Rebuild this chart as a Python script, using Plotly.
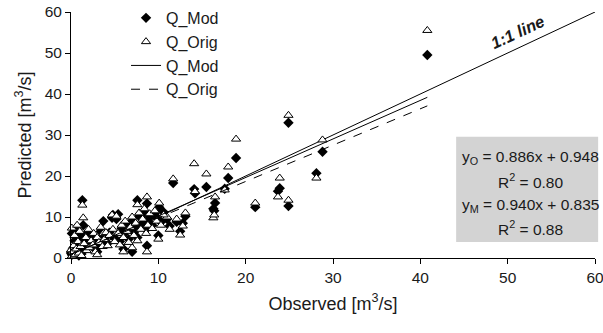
import plotly.graph_objects as go

# ---- data ----
observed = [40.8, 24.9, 28.8, 28.1, 18.9, 14.1, 15.5, 18.0, 17.6, 14.2, 23.9, 23.7, 24.9, 21.1,
            16.5, 16.3, 16.4, 13.1, 12.8, 12.5, 11.7, 8.7, 7.6, 10.1, 12.1, 11.0, 10.0, 8.7, 7.0,
            1.3, 1.4, 0.1,
            0.0, 0.1, 0.2, 0.3, 0.4, 0.5, 0.6, 0.7, 0.8, 0.9, 1.0, 1.1, 1.2, 1.5, 1.7, 1.8, 2.0,
            2.1, 2.3, 2.5, 2.6, 2.8, 3.0, 3.2, 3.4, 3.6, 3.7, 3.8, 4.0, 4.2, 4.4, 4.7, 4.8, 5.0,
            5.2, 5.4, 5.6, 5.8, 6.0, 6.2, 6.4, 6.6, 6.8, 7.0, 7.2, 7.4, 7.6, 7.8, 8.0, 8.2, 8.4,
            8.6, 8.8, 9.0, 9.3, 9.6, 9.8, 10.3, 10.6, 11.3, 6.0, 3.0]
q_orig = [55.5, 34.8, 28.8, 19.5, 29.0, 23.0, 20.5, 22.2, 16.6, 16.2, 19.5, 14.9, 14.1, 13.4,
          14.9, 9.8, 10.5, 11.0, 7.8, 5.6, 19.3, 14.9, 13.0, 13.4, 9.5, 10.0, 4.6, 1.5, 2.5,
          12.9, 9.8, 7.3,
          2.0, 0.5, 1.5, 3.0, 5.5, 0.8, 2.2, 8.0, 4.0, 1.2, 6.5, 2.8, 0.6, 3.5, 5.0, 1.8, 7.0,
          2.5, 4.2, 3.2, 6.0, 1.5, 5.0, 3.8, 7.5, 2.8, 6.0, 4.5, 6.2, 3.0, 5.5, 10.5, 7.0, 4.0,
          10.2, 6.0, 3.2, 8.0, 5.0, 9.0, 6.5, 3.8, 7.5, 10.0, 5.5, 8.5, 4.2, 11.0, 7.0, 9.5, 12.0,
          6.0, 8.0, 10.8, 7.2, 11.5, 9.0, 8.0, 10.5, 7.0, 1.5, 0.8]
q_mod = [49.5, 33.0, 25.9, 20.7, 24.4, 16.8, 17.3, 19.5, 16.9, 15.8, 17.0, 16.3, 12.7, 12.4,
         13.4, 12.0, 11.5, 10.2, 8.5, 6.5, 18.3, 13.3, 14.1, 12.4, 8.8, 9.5, 5.5, 3.0, 1.5,
         14.1, 8.0, 6.0,
         1.2, 0.8, 2.2, 2.5, 4.2, 1.5, 3.0, 6.8, 3.5, 0.6, 5.2, 2.0, 1.0, 4.0, 5.8, 2.5, 6.0,
         3.2, 3.8, 4.5, 5.5, 2.0, 4.2, 3.2, 6.5, 3.5, 9.0, 5.2, 5.5, 3.6, 6.2, 9.8, 10.5, 4.8,
         9.5, 10.7, 4.0, 7.2, 5.8, 8.2, 7.0, 4.6, 8.5, 9.0, 6.2, 7.8, 5.0, 10.2, 7.8, 8.5, 11.2,
         7.0, 9.0, 10.0, 8.0, 10.8, 9.8, 8.8, 11.2, 7.8, 2.2, 1.5]

fit_x = [0.0, 40.8]
fit_mod_y = [0.835, 39.19]    # y_M = 0.940x + 0.835
fit_orig_y = [0.948, 37.10]   # y_O = 0.886x + 0.948
one_to_one = [0, 60]

x_ticks = [0, 10, 20, 30, 40, 50, 60]
y_ticks = [0, 10, 20, 30, 40, 50, 60]

eq_lines = ["y<sub>O</sub> = 0.886x + 0.948", "R<sup>2</sup> = 0.80",
            "y<sub>M</sub> = 0.940x + 0.835", "R<sup>2</sup> = 0.88"]

FONT = "Liberation Sans, Arial, Helvetica, sans-serif"
INK = "#1a1a1a"

fig = go.Figure()

fig.add_trace(go.Scatter(x=one_to_one, y=one_to_one, mode="lines",
                         line=dict(color="black", width=1), showlegend=False,
                         hoverinfo="skip"))

fig.add_trace(go.Scatter(x=observed, y=q_mod, mode="markers", name="Q_Mod",
                         legendgroup="a", cliponaxis=False,
                         marker=dict(symbol="diamond", size=8, color="black",
                                     line=dict(width=0))))
fig.add_trace(go.Scatter(x=observed, y=q_orig, mode="markers", name="Q_Orig",
                         legendgroup="b", cliponaxis=False,
                         marker=dict(symbol="triangle-up", size=8, color="white",
                                     line=dict(color="black", width=1))))
fig.add_trace(go.Scatter(x=fit_x, y=fit_mod_y, mode="lines", name="Q_Mod",
                         legendgroup="c",
                         line=dict(color="black", width=1)))
fig.add_trace(go.Scatter(x=fit_x, y=fit_orig_y, mode="lines", name="Q_Orig",
                         legendgroup="d",
                         line=dict(color="black", width=1, dash="dash")))

# equation box
fig.add_shape(type="rect", xref="paper", yref="y", x0=0.735, x1=1.006, y0=3.9, y1=29.6,
              fillcolor="#d3d3d3", line=dict(width=0), layer="below")
eq_y = [24.6, 18.8, 12.9, 7.3]
for txt, yy in zip(eq_lines, eq_y):
    fig.add_annotation(x=52.6, y=yy, xref="x", yref="y", text=txt, showarrow=False,
                       font=dict(family=FONT, size=15.5, color=INK))

fig.add_annotation(x=51.1, y=55.2, xref="x", yref="y", text="<b><i>1:1 line</i></b>",
                   showarrow=False, textangle=-25,
                   font=dict(family=FONT, size=16.5, color=INK))

axis_common = dict(range=[0, 60], showgrid=False, zeroline=False, showline=True,
                   linecolor="black", linewidth=1, ticks="outside", ticklen=5,
                   tickcolor="black", automargin=False, ticklabeloverflow="allow",
                   tickfont=dict(family=FONT, size=15.5, color=INK))

fig.update_layout(
    width=603, height=333,
    margin=dict(l=71, r=8, t=12, b=75, autoexpand=False),
    paper_bgcolor="white", plot_bgcolor="white",
    font=dict(family=FONT, size=14, color=INK),
    xaxis=dict(**axis_common, tickvals=x_ticks,
               title=dict(text="Observed [m<sup>3</sup>/s]", standoff=12,
                          font=dict(family=FONT, size=18, color=INK))),
    yaxis=dict(**axis_common, tickvals=y_ticks,
               title=dict(text="Predicted [m<sup>3</sup>/s]", standoff=8,
                          font=dict(family=FONT, size=18, color=INK))),
    legend=dict(x=0.105, y=1.045, xanchor="left", yanchor="top",
                bgcolor="rgba(0,0,0,0)", tracegroupgap=0,
                traceorder="grouped",
                font=dict(family=FONT, size=16, color=INK)),
    showlegend=True,
)

fig.write_html("out.html")
